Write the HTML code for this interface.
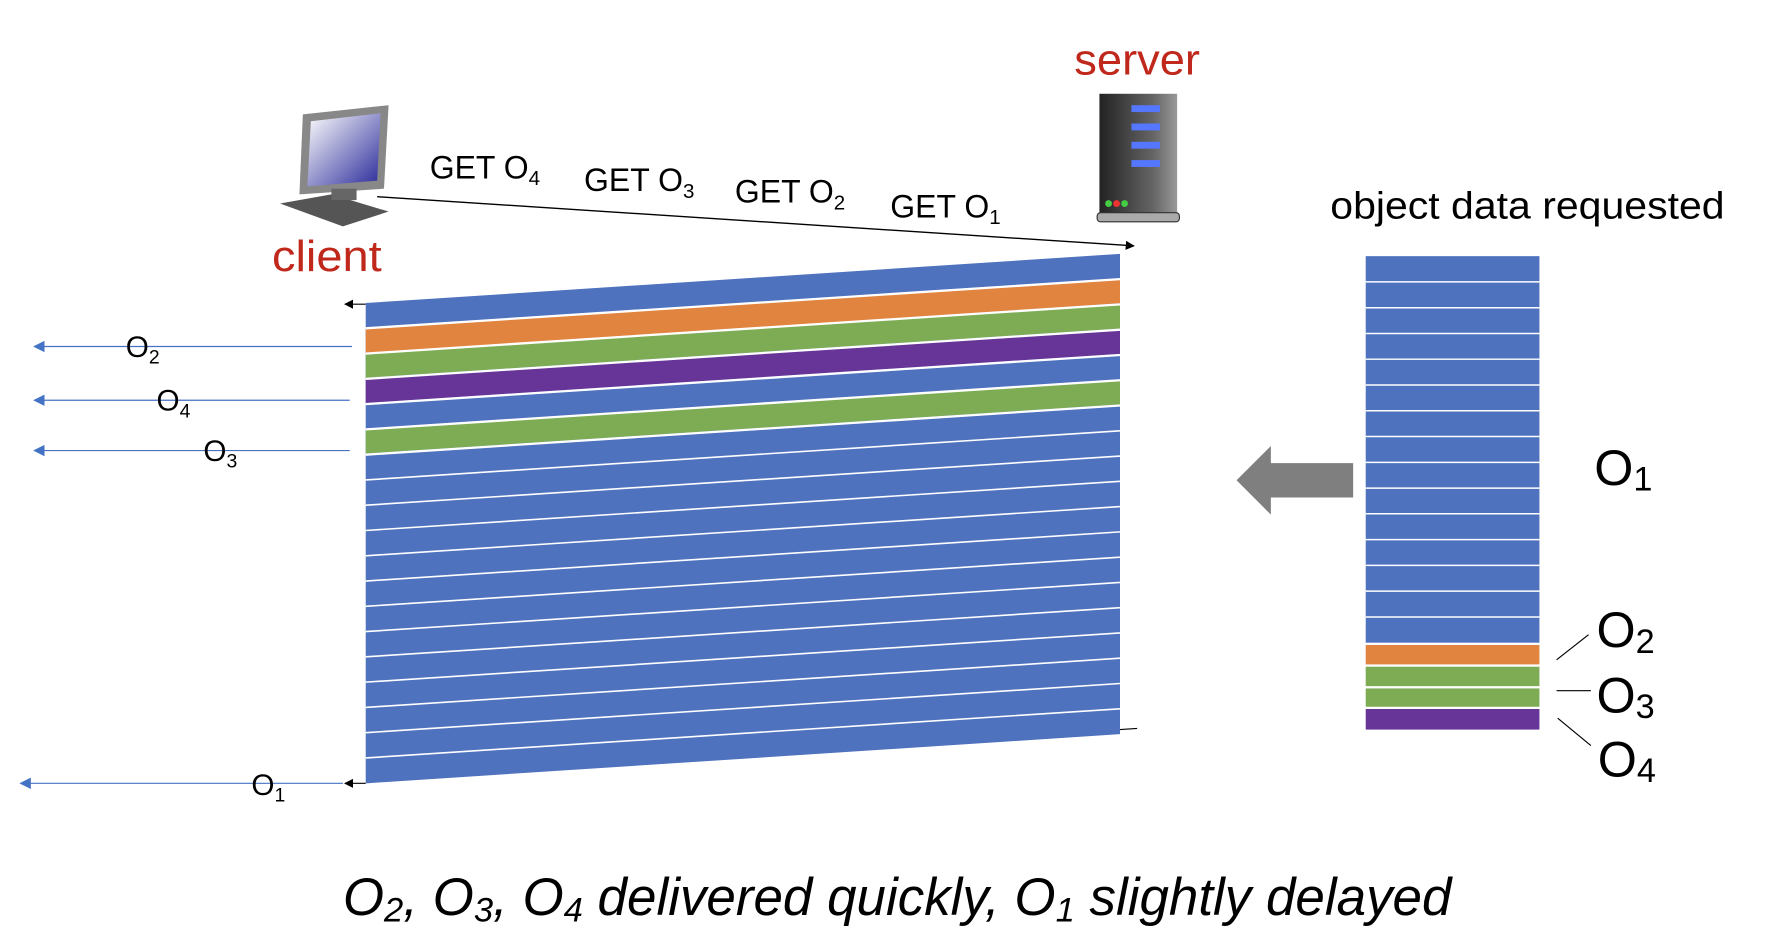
<!DOCTYPE html>
<html><head><meta charset="utf-8"><style>
html,body{margin:0;padding:0;background:#fff;width:1792px;height:932px;overflow:hidden}
text{font-family:"Liberation Sans",sans-serif}
</style></head><body>
<svg width="1792" height="932" viewBox="0 0 1568 815" preserveAspectRatio="none" xmlns="http://www.w3.org/2000/svg">
<defs>
<marker id="ab" markerWidth="8" markerHeight="8" refX="7" refY="4" orient="auto" markerUnits="userSpaceOnUse"><path d="M0,0 L8,4 L0,8 Z" fill="#000"/></marker>
<marker id="abl" markerWidth="10" markerHeight="10" refX="9" refY="5" orient="auto" markerUnits="userSpaceOnUse"><path d="M0,0 L10,5 L0,10 Z" fill="#4472c4"/></marker>
<linearGradient id="scr" x1="0" y1="0" x2="1" y2="1"><stop offset="0" stop-color="#fff"/><stop offset="1" stop-color="#2a2a9a"/></linearGradient>
<linearGradient id="srv" x1="0" y1="0" x2="1" y2="0"><stop offset="0" stop-color="#222"/><stop offset="0.7" stop-color="#666"/><stop offset="1" stop-color="#999"/></linearGradient>
</defs>
<text x="940" y="65" font-size="38" fill="#c0281c" textLength="110" lengthAdjust="spacingAndGlyphs">server</text>
<text x="238" y="237" font-size="38" fill="#c0281c" textLength="96" lengthAdjust="spacingAndGlyphs">client</text>
<!-- client icon -->
<polygon points="265,100 340,92 336,165 262,170" fill="#888"/>
<polygon points="272,106 333,99 330,158 269,163" fill="url(#scr)"/>
<polygon points="245,178 290,170 340,185 300,198" fill="#555"/>
<rect x="290" y="165" width="22" height="10" fill="#666"/>
<!-- server icon -->
<rect x="962" y="82" width="68" height="108" fill="url(#srv)"/>
<rect x="960" y="186" width="72" height="8" rx="3" fill="#aaa" stroke="#333"/>
<rect x="990" y="92" width="25" height="6" fill="#57f"/><rect x="990" y="108" width="25" height="6" fill="#57f"/><rect x="990" y="124" width="25" height="6" fill="#57f"/><rect x="990" y="140" width="25" height="6" fill="#57f"/>
<circle cx="970" cy="178" r="3" fill="#4c4"/><circle cx="977" cy="178" r="3" fill="#e33"/><circle cx="984" cy="178" r="3" fill="#4c4"/>
<!-- GET labels -->
<g font-size="28" fill="#000">
<text x="376" y="156">GET O<tspan font-size="18" dy="6">4</tspan></text>
<text x="511" y="167">GET O<tspan font-size="18" dy="6">3</tspan></text>
<text x="643" y="177">GET O<tspan font-size="18" dy="6">2</tspan></text>
<text x="779" y="190">GET O<tspan font-size="18" dy="6">1</tspan></text>
</g>
<line x1="330" y1="172" x2="992" y2="215" stroke="#000" stroke-width="1.2" marker-end="url(#ab)"/>
<text x="1164" y="191" font-size="33" textLength="345" lengthAdjust="spacingAndGlyphs">object data requested</text>
<!-- big stack -->
<polygon points="320,265 980,222 980,642 320,685" fill="#4e72bd"/>
<polygon points="320,287.1 980,244.1 980,265.2 320,309.2" fill="#e0843f"/>
<polygon points="320,309.2 980,266.2 980,287.3 320,330.3" fill="#7eac55"/>
<polygon points="320,331.3 980,288.3 980,309.4 320,352.4" fill="#673597"/>
<polygon points="320,375.5 980,332.5 980,353.6 320,396.6" fill="#7eac55"/>
<g stroke="#fff" stroke-width="2">
<line x1="320" y1="287.1" x2="980" y2="244.1"/>
<line x1="320" y1="309.2" x2="980" y2="266.2"/>
<line x1="320" y1="331.3" x2="980" y2="288.3"/>
<line x1="320" y1="353.4" x2="980" y2="310.4"/>
<line x1="320" y1="375.5" x2="980" y2="332.5"/>
<line x1="320" y1="397.6" x2="980" y2="354.6"/>
</g>
<g stroke="#fff" stroke-width="1.4">
<line x1="320" y1="419.7" x2="980" y2="376.7"/>
<line x1="320" y1="441.8" x2="980" y2="398.8"/>
<line x1="320" y1="463.9" x2="980" y2="420.9"/>
<line x1="320" y1="486" x2="980" y2="443"/>
<line x1="320" y1="508.1" x2="980" y2="465.1"/>
<line x1="320" y1="530.2" x2="980" y2="487.2"/>
<line x1="320" y1="552.3" x2="980" y2="509.3"/>
<line x1="320" y1="574.4" x2="980" y2="531.4"/>
<line x1="320" y1="596.5" x2="980" y2="553.5"/>
<line x1="320" y1="618.6" x2="980" y2="575.6"/>
<line x1="320" y1="640.7" x2="980" y2="597.7"/>
<line x1="320" y1="662.8" x2="980" y2="619.8"/>
</g>
<line x1="980" y1="638" x2="995" y2="637" stroke="#000"/>
<line x1="320" y1="266" x2="302" y2="266" stroke="#000" marker-end="url(#ab)"/>
<line x1="320" y1="685" x2="302" y2="685" stroke="#000" marker-end="url(#ab)"/>
<!-- blue arrows -->
<g stroke="#4472c4" stroke-width="1">
<line x1="308" y1="303" x2="30" y2="303" marker-end="url(#abl)"/>
<line x1="306" y1="350" x2="30" y2="350" marker-end="url(#abl)"/>
<line x1="306" y1="394" x2="30" y2="394" marker-end="url(#abl)"/>
<line x1="300" y1="685" x2="18" y2="685" marker-end="url(#abl)"/>
</g>
<g font-size="26">
<text x="110" y="312">O<tspan font-size="17" dy="6">2</tspan></text>
<text x="137" y="359">O<tspan font-size="17" dy="6">4</tspan></text>
<text x="178" y="403">O<tspan font-size="17" dy="6">3</tspan></text>
<text x="220" y="695">O<tspan font-size="17" dy="6">1</tspan></text>
</g>
<!-- grey arrow -->
<polygon points="1184,405 1112,405 1112,390 1082,420 1112,450 1112,435 1184,435" fill="#7f7f7f"/>
<!-- right column -->
<rect x="1195" y="224" width="152" height="338" fill="#4e72bd"/>
<g stroke="#fff" stroke-width="1.3">
<line x1="1195" y1="246.5" x2="1347" y2="246.5"/><line x1="1195" y1="269.1" x2="1347" y2="269.1"/>
<line x1="1195" y1="291.6" x2="1347" y2="291.6"/><line x1="1195" y1="314.1" x2="1347" y2="314.1"/>
<line x1="1195" y1="336.7" x2="1347" y2="336.7"/><line x1="1195" y1="359.2" x2="1347" y2="359.2"/>
<line x1="1195" y1="381.7" x2="1347" y2="381.7"/><line x1="1195" y1="404.3" x2="1347" y2="404.3"/>
<line x1="1195" y1="426.8" x2="1347" y2="426.8"/><line x1="1195" y1="449.3" x2="1347" y2="449.3"/>
<line x1="1195" y1="471.9" x2="1347" y2="471.9"/><line x1="1195" y1="494.4" x2="1347" y2="494.4"/>
<line x1="1195" y1="516.9" x2="1347" y2="516.9"/><line x1="1195" y1="539.5" x2="1347" y2="539.5"/>
</g>
<rect x="1195" y="564" width="152" height="17" fill="#e0843f"/>
<rect x="1195" y="583" width="152" height="17" fill="#7eac55"/>
<rect x="1195" y="602" width="152" height="16" fill="#7eac55"/>
<rect x="1195" y="620" width="152" height="18" fill="#673597"/>
<g stroke="#000" stroke-width="1">
<line x1="1362" y1="577" x2="1390" y2="555"/>
<line x1="1362" y1="604" x2="1392" y2="604"/>
<line x1="1363" y1="628" x2="1392" y2="652"/>
</g>
<g font-size="44">
<text x="1395" y="424">O<tspan font-size="30" dy="5">1</tspan></text>
<text x="1397" y="566">O<tspan font-size="30" dy="5">2</tspan></text>
<text x="1397" y="623">O<tspan font-size="30" dy="5">3</tspan></text>
<text x="1398" y="679">O<tspan font-size="30" dy="5">4</tspan></text>
</g>
<text x="300" y="800" font-size="46" font-style="italic" textLength="970" lengthAdjust="spacingAndGlyphs">O<tspan font-size="30" dy="6">2</tspan><tspan dy="-6">, O</tspan><tspan font-size="30" dy="6">3</tspan><tspan dy="-6">, O</tspan><tspan font-size="30" dy="6">4</tspan><tspan dy="-6"> delivered quickly, O</tspan><tspan font-size="30" dy="6">1</tspan><tspan dy="-6"> slightly delayed</tspan></text>
</svg>
</body></html>
